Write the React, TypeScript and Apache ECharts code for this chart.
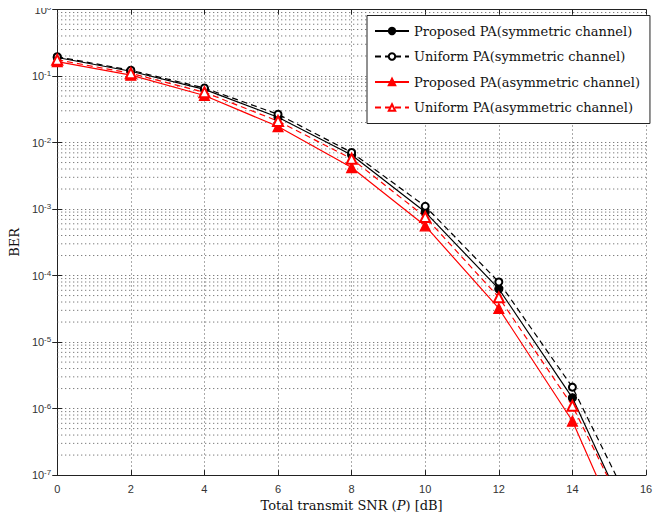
import React, { useEffect, useRef } from "react";
import * as echarts from "echarts";

const snr = [0, 2, 4, 6, 8, 10, 12, 14, 16];
const proposedSym = [0.19, 0.118, 0.063, 0.024, 0.0065, 9.0e-4, 6.3e-5, 1.45e-6, 5.9e-9];
const uniformSym = [0.195, 0.122, 0.066, 0.0266, 0.0071, 1.1e-3, 8.0e-5, 2.1e-6, 1.2e-8];
const proposedAsym = [0.165, 0.103, 0.051, 0.0174, 0.0042, 5.6e-4, 3.2e-5, 6.5e-7, 2e-9];
const uniformAsym = [0.175, 0.11, 0.057, 0.021, 0.0057, 7.6e-4, 4.7e-5, 1.1e-6, 6.5e-9];

const seriesNames = [
  "Proposed PA(symmetric channel)",
  "Uniform PA(symmetric channel)",
  "Proposed PA(asymmetric channel)",
  "Uniform PA(asymmetric channel)",
];

const decades = [-7, -6, -5, -4, -3, -2, -1];
const mantissas = [2, 3, 4, 5, 6, 7, 8, 9];

export default function App() {
  const ref = useRef<HTMLDivElement>(null);
  useEffect(() => {
    if (!ref.current) return;
    const chart = echarts.init(ref.current, null, { renderer: "svg" });
    const pairs = (ys: number[]) => snr.map((x, i) => [x, ys[i]]);
    const minorGrid: number[][] = [];
    decades.forEach((d) => mantissas.forEach((m) => minorGrid.push([0, m * Math.pow(10, d)])));
    const gridColor = "#555";
    const dotted = [1, 3];
    const serif = "DejaVu Serif";
    const mk = (name: string, data: number[], color: string, dashed: boolean, symbol: string, size: number) => ({
      name,
      type: "line",
      data: pairs(data),
      symbol,
      symbolSize: size,
      clip: true,
      z: 3,
      lineStyle: { color, width: 1.2, type: dashed ? [6, 4] : "solid" },
      itemStyle: { color, borderColor: color, borderWidth: 1.2 },
    });
    chart.setOption({
      animation: false,
      backgroundColor: "#fff",
      grid: { left: 49.5, right: 24, top: 9.5, bottom: 39.5 },
      legend: {
        orient: "vertical",
        left: 367,
        top: 15.5,
        padding: [8.5, 10, 9, 7],
        itemGap: 11.5,
        itemWidth: 34,
        itemHeight: 8,
        backgroundColor: "#fff",
        borderColor: "#222",
        borderWidth: 1,
        borderRadius: 0,
        textStyle: { fontFamily: serif, fontSize: 13, lineHeight: 14, color: "#111" },
        data: seriesNames,
      },
      xAxis: [
        {
          type: "value",
          min: 0,
          max: 16,
          interval: 2,
          name: "Total transmit SNR ({i|P}) [dB]",
          nameLocation: "middle",
          nameGap: 23,
          nameTextStyle: {
            fontFamily: serif,
            fontSize: 13,
            color: "#111",
            rich: { i: { fontFamily: serif, fontStyle: "italic", fontSize: 13, color: "#111" } },
          },
          axisLine: { lineStyle: { color: "#222", width: 1 } },
          axisTick: { inside: true, length: 5, lineStyle: { color: "#222" } },
          axisLabel: { fontFamily: "Liberation Sans", fontSize: 11, color: "#333", margin: 8 },
          splitLine: { show: true, lineStyle: { color: gridColor, type: dotted, width: 1 } },
        },
        {
          type: "value",
          position: "top",
          min: 0,
          max: 16,
          interval: 2,
          axisLine: { show: true, lineStyle: { color: "#222", width: 1 } },
          axisTick: { show: true, inside: true, length: 5, lineStyle: { color: "#222" } },
          axisLabel: { show: false },
          splitLine: { show: false },
        },
      ],
      yAxis: [
        {
          type: "log",
          logBase: 10,
          min: 1e-7,
          max: 1,
          name: "BER",
          nameLocation: "middle",
          nameGap: 27,
          nameTextStyle: { fontFamily: serif, fontSize: 13, color: "#111" },
          axisLine: { show: true, lineStyle: { color: "#222", width: 1 } },
          axisTick: { inside: true, length: 5, lineStyle: { color: "#222" } },
          axisLabel: {
            fontFamily: "Liberation Sans",
            fontSize: 11,
            color: "#333",
            margin: 6,
            formatter: (v: number) => `10{sup|${Math.round(Math.log10(v))}}`,
            rich: {
              sup: { fontFamily: "Liberation Sans", fontSize: 8, color: "#333", verticalAlign: "bottom", padding: [0, 0, 5, 0] },
            },
          },
          splitLine: { show: true, lineStyle: { color: gridColor, type: dotted, width: 1 } },
        },
        {
          type: "log",
          logBase: 10,
          min: 1e-7,
          max: 1,
          position: "right",
          axisLine: { show: true, lineStyle: { color: "#222", width: 1 } },
          axisTick: { show: true, inside: true, length: 5, lineStyle: { color: "#222" } },
          axisLabel: { show: false },
          splitLine: { show: false },
        },
      ],
      series: [
        {
          type: "custom",
          silent: true,
          z: 1,
          xAxisIndex: 0,
          yAxisIndex: 0,
          data: minorGrid,
          renderItem: (params: any, api: any) => {
            const p = api.coord([0, api.value(1)]);
            const cs = params.coordSys;
            return {
              type: "line",
              silent: true,
              shape: { x1: cs.x, y1: p[1], x2: cs.x + cs.width, y2: p[1] },
              style: { stroke: gridColor, lineWidth: 1, lineDash: dotted },
            };
          },
        },
        mk(seriesNames[0], proposedSym, "#000", false, "circle", 8),
        mk(seriesNames[1], uniformSym, "#000", true, "emptyCircle", 7),
        mk(seriesNames[2], proposedAsym, "#ff0000", false, "triangle", 10),
        mk(seriesNames[3], uniformAsym, "#ff0000", true, "emptyTriangle", 10),
      ],
    });
    return () => chart.dispose();
  }, []);
  return <div ref={ref} style={{ width: 670, height: 517, marginLeft: -8, marginTop: -8 }} />;
}
